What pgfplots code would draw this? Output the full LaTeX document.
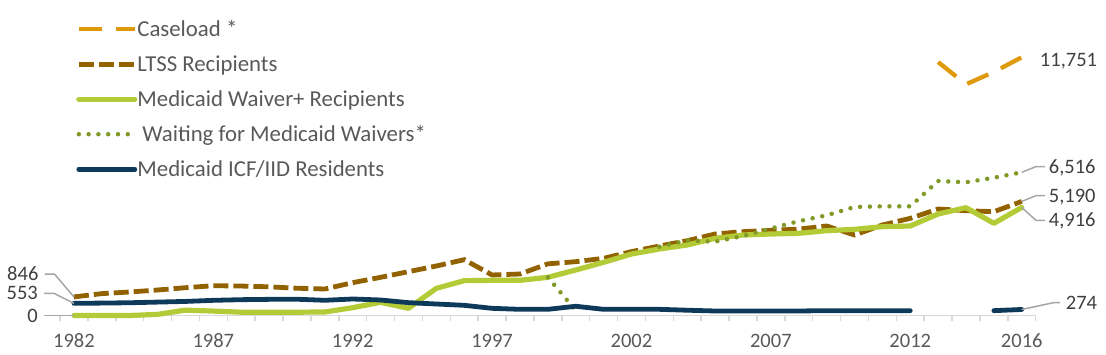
\documentclass[border=0pt]{standalone}
\usepackage{pgfplots}
\usepackage{pgfplotstable}
\pgfplotsset{compat=1.18}
\usepackage{fontspec}
\setmainfont{Carlito}
\definecolor{caseload}{RGB}{222,154,10}
\definecolor{ltss}{RGB}{146,98,0}
\definecolor{waiver}{RGB}{180,203,56}
\definecolor{waiting}{RGB}{128,154,40}
\definecolor{icf}{RGB}{14,58,90}
\definecolor{txt}{RGB}{89,89,89}
\definecolor{lbltxt}{RGB}{64,64,64}
\definecolor{axisgray}{RGB}{217,217,217}
\definecolor{leader}{RGB}{166,166,166}

\pgfplotstableread{
year caseload ltss waiver waiting icf
1982 nan 846 0 nan 553
1983 nan 995 0 nan 565
1984 nan 1070 0 nan 580
1985 nan 1160 50 nan 610
1986 nan 1265 245 nan 640
1987 nan 1355 200 nan 690
1988 nan 1340 150 nan 720
1989 nan 1305 150 nan 735
1990 nan 1240 150 nan 740
1991 nan 1206 160 nan 692
1992 nan 1494 357 nan 751
1993 nan 1737 600 nan 705
1994 nan 1994 326 nan 584
1995 nan 2252 1236 nan 523
1996 nan 2540 1585 nan 463
1997 nan 1843 1600 nan 326
1998 nan 1888 1600 nan 281
1999 nan 2350 1737 1738 281
2000 nan 2449 2070 230 420
2001 nan 2601 2419 nan 281
2002 nan 2905 2798 nan 281
2003 nan 3162 3026 3132 281
2004 nan 3404 3208 3420 240
2005 nan 3708 3511 3359 205
2006 nan 3814 3663 3617 205
2007 nan 3875 3708 3958 205
2008 nan 3930 3739 4290 205
2009 nan 4072 3859 4558 220
2010 nan 3663 3921 4937 220
2011 nan 4118 4042 4967 220
2012 nan 4421 4072 4967 220
2013 11530 4846 4618 6120 nan
2014 10520 4768 4906 6060 nan
2015 11080 4723 4195 6270 220
2016 11751 5190 4916 6516 274
}\datatable

\tikzset{
  lbl/.style={text=lbltxt, font=\fontsize{20.5bp}{24bp}\selectfont, text height=13.2bp, text depth=0pt},
  lead/.style={draw=leader, line width=1.5bp},
}

\begin{document}
\begin{tikzpicture}
\useasboundingbox (0bp,0bp) rectangle (1106bp,355bp);
\begin{axis}[
  at={(60bp,39.5bp)}, anchor=south west,
  scale only axis, width=975.7bp, height=307.7bp,
  xmin=-0.5, xmax=34.5, ymin=0, ymax=14000,
  clip=false,
  unbounded coords=jump,
  axis x line*=bottom, axis y line=none,
  x axis line style={draw=axisgray, line width=1.5bp},
  xtick={0,5,10,15,20,25,30,34},
  xticklabels={1982,1987,1992,1997,2002,2007,2012,2016},
  major tick length=0pt,
  minor xtick={-0.5,0.5,...,34.5},
  minor tick length=6bp,
  tick align=outside,
  tick style={draw=axisgray, line width=1.5bp},
  xticklabel style={anchor=center, yshift=-25.5bp, text=txt, font=\fontsize{20.5bp}{24bp}\selectfont, text height=13.2bp, text depth=0pt},
  legend cell align=left,
  legend style={at={(rel axis cs:0.0164,0.957)}, anchor=north west, draw=none, fill=none, inner sep=0pt,
    row sep=15bp, column sep=0bp, font=\fontsize{22.8bp}{26bp}\selectfont, text=txt,
    nodes={inner sep=0pt, text height=15bp, text depth=5bp}},
  legend image code/.code={\draw[#1] (0bp,2bp) -- (56bp,2bp);},
]
\addplot[caseload, line width=4.3bp, dash pattern=on 23bp off 14bp] table[x expr=\thisrow{year}-1982,y=caseload]{\datatable};
\addlegendentry{Caseload *}
\addplot[ltss, line width=4.8bp, dash pattern=on 15bp off 5bp] table[x expr=\thisrow{year}-1982,y=ltss]{\datatable};
\addlegendentry{LTSS Recipients}
\addplot[waiver, line width=5.2bp, line join=round, line cap=round] table[x expr=\thisrow{year}-1982,y=waiver]{\datatable};
\addlegendentry{Medicaid Waiver+ Recipients}
\addplot[waiting, line width=4.5bp, line cap=round, dash pattern=on 0bp off 9.8bp] table[x expr=\thisrow{year}-1982,y=waiting]{\datatable};
\addlegendentry{\hspace{5bp}Waiting for Medicaid Waivers*}
\addplot[icf, line width=4.8bp, line join=round, line cap=round] table[x expr=\thisrow{year}-1982,y=icf]{\datatable};
\addlegendentry{Medicaid ICF/IID Residents}

% data labels
\draw[lead] (axis cs:0,846) -- ++(-19.3bp,22.7bp) -- ++(-10bp,0bp) node[lbl, anchor=east, inner sep=5.5bp] {846};
\draw[lead] (axis cs:0,553) -- ++(-19.9bp,10bp) -- ++(-10bp,0bp) node[lbl, anchor=east, inner sep=5.5bp] {553};
\draw[lead] (axis cs:0,0) -- ++(-29.9bp,0bp) node[lbl, anchor=east, inner sep=5.5bp] {0};
\draw[lead] (axis cs:34,6516) -- ++(14.1bp,5.6bp) -- ++(9.3bp,0bp) node[lbl, anchor=west, inner sep=3bp] {6,516};
\draw[lead] (axis cs:34,5190) -- ++(14.1bp,5.7bp) -- ++(9.3bp,0bp) node[lbl, anchor=west, inner sep=3bp] {5,190};
\draw[lead] (axis cs:34,4916) -- ++(14.1bp,-12.8bp) -- ++(9.3bp,0bp) node[lbl, anchor=west, inner sep=3bp] {4,916};
\draw[lead] (axis cs:34,274) -- ++(31.8bp,6.8bp) -- ++(6.6bp,0bp) node[lbl, anchor=west, inner sep=5bp] {274};
\path (axis cs:34,11751) ++(15bp,-2.8bp) node[lbl, anchor=west, inner sep=3bp] {11,751};
\end{axis}
\end{tikzpicture}
\end{document}
